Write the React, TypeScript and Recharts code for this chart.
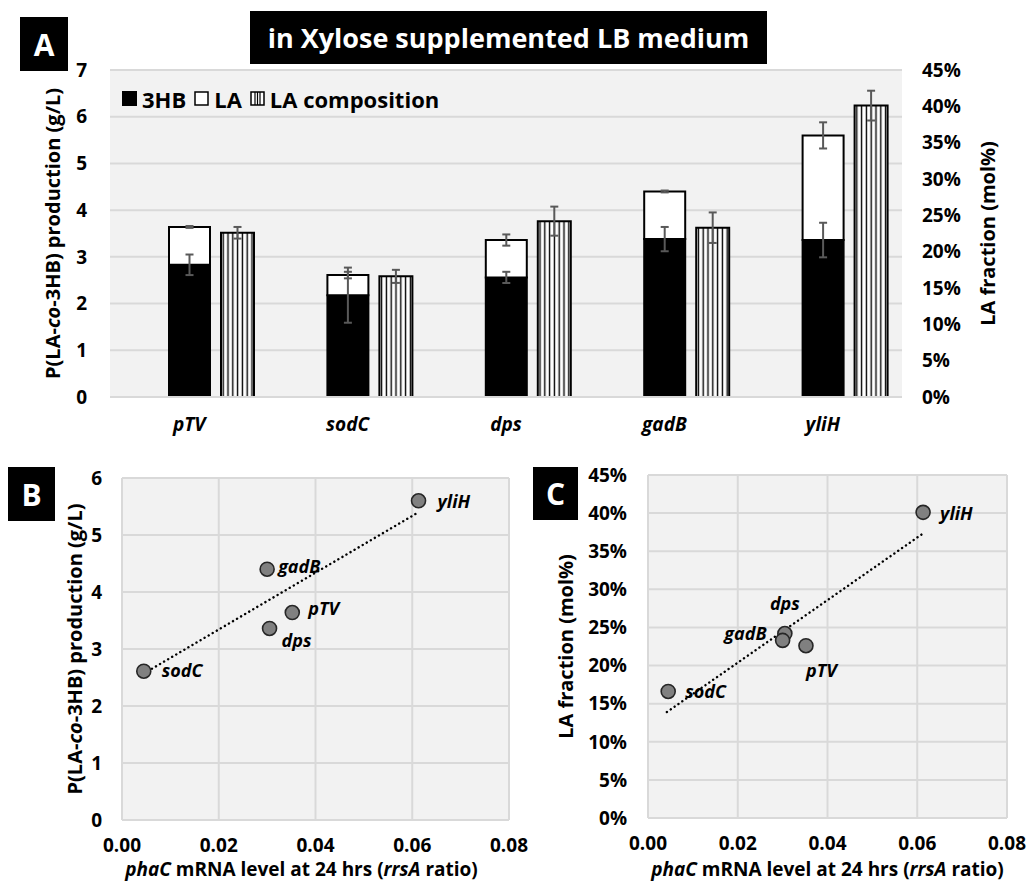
import React from "react";
import {
  ComposedChart,
  Bar,
  XAxis,
  YAxis,
  CartesianGrid,
  ErrorBar,
  Legend,
  ScatterChart,
  Scatter,
} from "recharts";

const F = "'Open Sans', 'DejaVu Sans', sans-serif";

// strains
const genes = ["pTV", "sodC", "dps", "gadB", "yliH"];
// panel A: g/L
const hb3 = [2.83, 2.18, 2.56, 3.38, 3.36];
const hb3Err = [0.22, 0.59, 0.12, 0.26, 0.37];
const la = [0.81, 0.43, 0.8, 1.02, 2.24];
const laErr = [0.02, 0.07, 0.12, 0.02, 0.28];
// LA composition, mol%
const laComp = [22.6, 16.6, 24.2, 23.3, 40.1];
const laCompErr = [0.8, 0.9, 2.0, 2.1, 2.05];
// panels B / C
const production = [3.64, 2.61, 3.36, 4.4, 5.6];
const phaC = [0.0352, 0.0045, 0.0305, 0.03, 0.0613];
const trendProdX = [0.0045, 0.0613];
const trendProdY = [2.57, 5.4];
const trendCompX = [0.0042, 0.0611];
const trendCompY = [13.9, 37.25];

const gTicks = [0, 1, 2, 3, 4, 5, 6, 7];
const pctTicks = [0, 5, 10, 15, 20, 25, 30, 35, 40, 45];
const prodTicks = [0, 1, 2, 3, 4, 5, 6];
const mrnaTicks = [0, 0.02, 0.04, 0.06, 0.08];

const barData = genes.map((gene, i) => ({
  gene,
  hb3: hb3[i],
  hb3Err: hb3Err[i],
  la: la[i],
  laErr: laErr[i],
  comp: laComp[i],
  compErr: laCompErr[i],
}));

const prodPoints = genes.map((name, i) => ({ name, x: phaC[i], y: production[i] }));
const compPoints = genes.map((name, i) => ({ name, x: phaC[i], y: laComp[i] }));
const prodTrend = trendProdX.map((x, i) => ({ x, y: trendProdY[i] }));
const compTrend = trendCompX.map((x, i) => ({ x, y: trendCompY[i] }));

// where each point label sits relative to its marker
const labelPosB: Record<string, { dx: number; dy: number; anchor: string }> = {
  pTV: { dx: 16, dy: 2, anchor: "start" },
  sodC: { dx: 18, dy: 6, anchor: "start" },
  dps: { dx: 12, dy: 19, anchor: "start" },
  gadB: { dx: 11, dy: 4, anchor: "start" },
  yliH: { dx: 19, dy: 7, anchor: "start" },
};
const labelPosC: Record<string, { dx: number; dy: number; anchor: string }> = {
  pTV: { dx: 0, dy: 31, anchor: "start" },
  sodC: { dx: 17, dy: 7, anchor: "start" },
  dps: { dx: 0, dy: -24, anchor: "middle" },
  gadB: { dx: -16, dy: 0, anchor: "end" },
  yliH: { dx: 17, dy: 8, anchor: "start" },
};

const tickStyle = { fill: "#000", fontSize: 19, fontWeight: 700, fontFamily: F };
const gridColor = "#d9d9d9";
const errColor = "#595959";

function VTitle({ x, y, children }: { x: number; y: number; children: React.ReactNode }) {
  return (
    <text
      x={x}
      y={y}
      transform={`rotate(-90 ${x} ${y})`}
      textAnchor="middle"
      dominantBaseline="central"
      fontFamily={F}
      fontSize={20}
      fontWeight={700}
      fill="#000"
    >
      {children}
    </text>
  );
}

const prodTitle = (
  <>
    <tspan>P(LA-</tspan>
    <tspan fontStyle="italic">co</tspan>
    <tspan>-3HB) production (g/L)</tspan>
  </>
);

function MrnaTitle({ x, y }: { x: number; y: number }) {
  return (
    <text x={x} y={y} textAnchor="middle" fontFamily={F} fontSize={19} fontWeight={700} fill="#000">
      <tspan fontStyle="italic">phaC</tspan>
      <tspan> mRNA level at 24 hrs (</tspan>
      <tspan fontStyle="italic">rrsA</tspan>
      <tspan> ratio)</tspan>
    </text>
  );
}

function LegendA() {
  const item = (icon: React.ReactNode, text: string) => (
    <span style={{ display: "inline-flex", alignItems: "center", marginRight: 8 }}>
      <svg width={15} height={15} style={{ marginRight: 5 }}>
        {icon}
      </svg>
      {text}
    </span>
  );
  return (
    <div style={{ fontFamily: F, fontSize: 22, fontWeight: 700, color: "#000", whiteSpace: "nowrap" }}>
      {item(<rect x={0} y={0} width={15} height={15} fill="#000" />, "3HB")}
      {item(<rect x={1} y={1} width={13} height={13} fill="#fff" stroke="#000" strokeWidth={1.5} />, "LA")}
      {item(
        <g>
          <rect x={1} y={1} width={13} height={13} fill="#fff" stroke="#000" strokeWidth={1.5} />
          <line x1={5} y1={1} x2={5} y2={14} stroke="#000" strokeWidth={1.2} />
          <line x1={7.5} y1={1} x2={7.5} y2={14} stroke="#000" strokeWidth={1.2} />
          <line x1={10} y1={1} x2={10} y2={14} stroke="#000" strokeWidth={1.2} />
        </g>,
        "LA composition"
      )}
    </div>
  );
}

function makeDot(pos: Record<string, { dx: number; dy: number; anchor: string }>) {
  return (props: any) => {
    const { cx, cy, payload } = props;
    const p = pos[payload.name];
    return (
      <g>
        <circle cx={cx} cy={cy} r={7} fill="#808080" stroke="#262626" strokeWidth={1.6} />
        <text
          x={cx + p.dx}
          y={cy + p.dy}
          textAnchor={p.anchor}
          fontFamily={F}
          fontSize={18}
          fontWeight={700}
          fontStyle="italic"
          fill="#000"
        >
          {payload.name}
        </text>
      </g>
    );
  };
}

const trendLine = {
  stroke: "#000",
  strokeWidth: 2.4,
  strokeDasharray: "0.1 4.6",
  strokeLinecap: "round" as const,
};

function PanelTag({ letter, left, top, w, h }: { letter: string; left: number; top: number; w: number; h: number }) {
  return (
    <div
      style={{
        position: "absolute",
        left,
        top,
        width: w,
        height: h,
        background: "#000",
        color: "#fff",
        fontFamily: F,
        fontWeight: 700,
        fontSize: 30,
        display: "flex",
        alignItems: "center",
        justifyContent: "center",
      }}
    >
      {letter}
    </div>
  );
}

export default function App() {
  return (
    <div
      style={{
        position: "absolute",
        left: 0,
        top: 0,
        width: 1029,
        height: 881,
        overflow: "hidden",
        background: "#fff",
      }}
    >
      <div style={{ position: "absolute", left: 0, top: 0 }}>
        <ComposedChart
          width={1029}
          height={445}
          data={barData}
          margin={{ top: 70, right: 47, bottom: 18, left: 50 }}
          barGap={11}
        >
          <defs>
            <pattern id="vhatch" patternUnits="userSpaceOnUse" width={4.8} height={10}>
              <rect x={0} y={0} width={4.8} height={10} fill="#fff" />
              <line x1={2.4} y1={0} x2={2.4} y2={10} stroke="#000" strokeWidth={1.4} />
            </pattern>
          </defs>
          <CartesianGrid vertical={false} yAxisId="g" stroke={gridColor} strokeWidth={2} fill="#f2f2f2" />
          <XAxis
            dataKey="gene"
            tickLine={false}
            axisLine={{ stroke: gridColor, strokeWidth: 2 }}
            tickSize={0}
            tickMargin={21}
            height={30}
            tick={{ ...tickStyle, fontSize: 19, fontStyle: "italic" }}
          />
          <YAxis
            yAxisId="g"
            domain={[0, 7]}
            ticks={gTicks}
            width={60}
            tickLine={false}
            axisLine={false}
            tickSize={0}
            tickMargin={23}
            tick={tickStyle}
            label={(props: any) => {
              const vb = props.viewBox || { x: 50, y: 70, height: 327 };
              return <VTitle x={vb.x + 2} y={vb.y + vb.height / 2}>{prodTitle}</VTitle>;
            }}
          />
          <YAxis
            yAxisId="p"
            orientation="right"
            domain={[0, 45]}
            ticks={pctTicks}
            tickFormatter={(v) => `${v}%`}
            width={80}
            tickLine={false}
            axisLine={false}
            tickSize={0}
            tickMargin={20}
            tick={{ ...tickStyle, textAnchor: "start" }}
            label={(props: any) => {
              const vb = props.viewBox || { x: 902, y: 70, height: 327 };
              return <VTitle x={vb.x + 85} y={vb.y + vb.height / 2}>LA fraction (mol%)</VTitle>;
            }}
          />
          <Legend
            layout="horizontal"
            verticalAlign="middle"
            align="center"
            wrapperStyle={{ top: 82, left: 122, width: "auto" }}
            content={() => <LegendA />}
          />
          {/* invisible spacer on the left keeps the stacked bar centred on its category */}
          <Bar yAxisId="p" dataKey="comp" stackId="a_pad" barSize={33} fill="transparent" legendType="none" isAnimationActive={false} />
          <Bar yAxisId="g" dataKey="hb3" stackId="b_prod" barSize={41} fill="#000" stroke="#000" strokeWidth={2} isAnimationActive={false}>
            <ErrorBar dataKey="hb3Err" width={4} stroke={errColor} strokeWidth={2} />
          </Bar>
          <Bar yAxisId="g" dataKey="la" stackId="b_prod" barSize={41} fill="#fff" stroke="#000" strokeWidth={2} isAnimationActive={false}>
            <ErrorBar dataKey="laErr" width={4} stroke={errColor} strokeWidth={2} />
          </Bar>
          <Bar yAxisId="p" dataKey="comp" stackId="c_comp" barSize={33} fill="url(#vhatch)" stroke="#000" strokeWidth={2} isAnimationActive={false}>
            <ErrorBar dataKey="compErr" width={4} stroke={errColor} strokeWidth={2} />
          </Bar>
        </ComposedChart>
      </div>

      <div
        style={{
          position: "absolute",
          left: 250,
          top: 11,
          width: 517,
          height: 53,
          background: "#000",
          color: "#fff",
          fontFamily: F,
          fontWeight: 700,
          fontSize: 27,
          display: "flex",
          alignItems: "center",
          justifyContent: "center",
          whiteSpace: "nowrap",
        }}
      >
        in Xylose supplemented LB medium
      </div>

      <div style={{ position: "absolute", left: 0, top: 460 }}>
        <ScatterChart width={540} height={421} margin={{ top: 18, right: 31, bottom: 0, left: 20 }}>
          <CartesianGrid stroke={gridColor} strokeWidth={2} fill="#f2f2f2" />
          <XAxis
            type="number"
            dataKey="x"
            domain={[0, 0.08]}
            ticks={mrnaTicks}
            tickFormatter={(v) => v.toFixed(2)}
            height={61}
            tickLine={false}
            axisLine={false}
            tickSize={0}
            tickMargin={19}
            tick={tickStyle}
            label={(props: any) => {
              const vb = props.viewBox || { x: 122, y: 360, width: 387 };
              return <MrnaTitle x={vb.x + vb.width / 2 - 14} y={416} />;
            }}
          />
          <YAxis
            type="number"
            dataKey="y"
            domain={[0, 6]}
            ticks={prodTicks}
            width={102}
            tickLine={false}
            axisLine={false}
            tickSize={0}
            tickMargin={20}
            tick={tickStyle}
            label={(props: any) => {
              const vb = props.viewBox || { x: 20, y: 18, height: 342 };
              return <VTitle x={74} y={vb.y + vb.height / 2}>{prodTitle}</VTitle>;
            }}
          />
          <Scatter data={prodTrend} line={trendLine} shape={() => <g />} isAnimationActive={false} />
          <Scatter data={prodPoints} shape={makeDot(labelPosB)} isAnimationActive={false} />
        </ScatterChart>
      </div>

      <div style={{ position: "absolute", left: 510, top: 460 }}>
        <ScatterChart width={519} height={421} margin={{ top: 15, right: 22, bottom: 0, left: 20 }}>
          <CartesianGrid stroke={gridColor} strokeWidth={2} fill="#f2f2f2" />
          <XAxis
            type="number"
            dataKey="x"
            domain={[0, 0.08]}
            ticks={mrnaTicks}
            tickFormatter={(v) => v.toFixed(2)}
            height={63}
            tickLine={false}
            axisLine={false}
            tickSize={0}
            tickMargin={19}
            tick={tickStyle}
            label={(props: any) => {
              const vb = props.viewBox || { x: 138, y: 358, width: 359 };
              return <MrnaTitle x={vb.x + vb.width / 2} y={416} />;
            }}
          />
          <YAxis
            type="number"
            dataKey="y"
            domain={[0, 45]}
            ticks={pctTicks}
            tickFormatter={(v) => `${v}%`}
            width={118}
            tickLine={false}
            axisLine={false}
            tickSize={0}
            tickMargin={21}
            tick={tickStyle}
            label={(props: any) => {
              const vb = props.viewBox || { x: 20, y: 15, height: 343 };
              return <VTitle x={55} y={vb.y + vb.height / 2}>LA fraction (mol%)</VTitle>;
            }}
          />
          <Scatter data={compTrend} line={trendLine} shape={() => <g />} isAnimationActive={false} />
          <Scatter data={compPoints} shape={makeDot(labelPosC)} isAnimationActive={false} />
        </ScatterChart>
      </div>

      <PanelTag letter="A" left={20} top={17} w={48} h={54} />
      <PanelTag letter="B" left={8} top={467} w={47} h={54} />
      <PanelTag letter="C" left={533} top={467} w={45} h={53} />
    </div>
  );
}
